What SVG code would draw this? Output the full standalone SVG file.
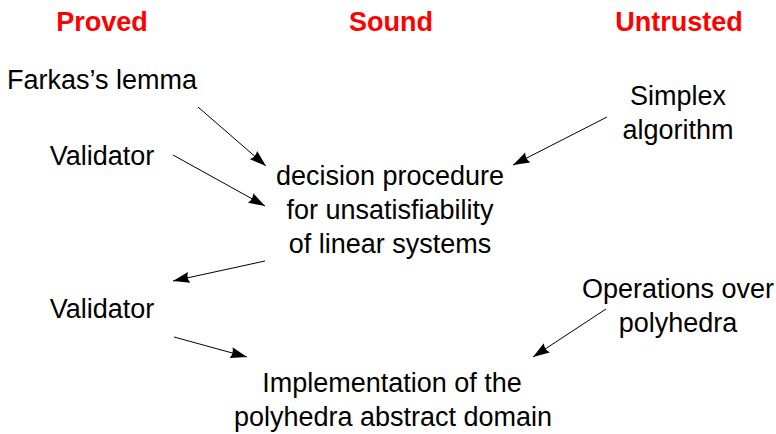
<svg xmlns="http://www.w3.org/2000/svg" width="776" height="434" viewBox="0 0 776 434">
  <style>
    .head { font-family: "Liberation Sans", Arial, sans-serif; font-weight: bold; font-size: 27px; fill: #ff0000; text-anchor: middle; }
    .lbl { font-family: "Liberation Sans", Arial, sans-serif; font-size: 27px; fill: #000000; text-anchor: middle; }
    .edge { stroke: #000000; stroke-width: 1; fill: none; marker-end: url(#arrow); }
  </style>
  <defs>
    <marker id="arrow" markerUnits="userSpaceOnUse" viewBox="-17 -7 18 14" refX="0" refY="0" markerWidth="18" markerHeight="14" orient="auto">
      <path d="M0,0 L-16.5,-5.5 Q-13.5,0 -16.5,5.5 Z" fill="#000000"/>
    </marker>
  </defs>
  <rect width="776" height="434" fill="#ffffff"/>

  <!-- column headings -->
  <g id="headings">
    <text class="head" x="102" y="31">Proved</text>
    <text class="head" x="391" y="31">Sound</text>
    <text class="head" x="679" y="31">Untrusted</text>
  </g>

  <g id="farkas">
    <text class="lbl" x="102" y="89">Farkas’s lemma</text>
  </g>
  <g id="validator1">
    <text class="lbl" x="102" y="165">Validator</text>
  </g>
  <g id="simplex">
    <text class="lbl" x="678" y="105">Simplex</text>
    <text class="lbl" x="678" y="139">algorithm</text>
  </g>
  <g id="decision">
    <text class="lbl" x="390" y="185">decision procedure</text>
    <text class="lbl" x="390" y="219">for unsatisfiability</text>
    <text class="lbl" x="390" y="253">of linear systems</text>
  </g>
  <g id="validator2">
    <text class="lbl" x="102" y="318">Validator</text>
  </g>
  <g id="operations">
    <text class="lbl" x="678" y="298">Operations over</text>
    <text class="lbl" x="678" y="332">polyhedra</text>
  </g>
  <g id="implementation">
    <text class="lbl" x="392" y="392">Implementation of the</text>
    <text class="lbl" x="393" y="426">polyhedra abstract domain</text>
  </g>

  <!-- connectors -->
  <g id="connectors">
    <line class="edge" x1="198" y1="107" x2="266" y2="166"/>
    <line class="edge" x1="173" y1="155" x2="265" y2="206"/>
    <line class="edge" x1="265" y1="261" x2="173" y2="281"/>
    <line class="edge" x1="174" y1="337" x2="247" y2="357"/>
    <line class="edge" x1="607" y1="117" x2="513" y2="165"/>
    <line class="edge" x1="606" y1="309" x2="533" y2="357"/>
  </g>
</svg>
